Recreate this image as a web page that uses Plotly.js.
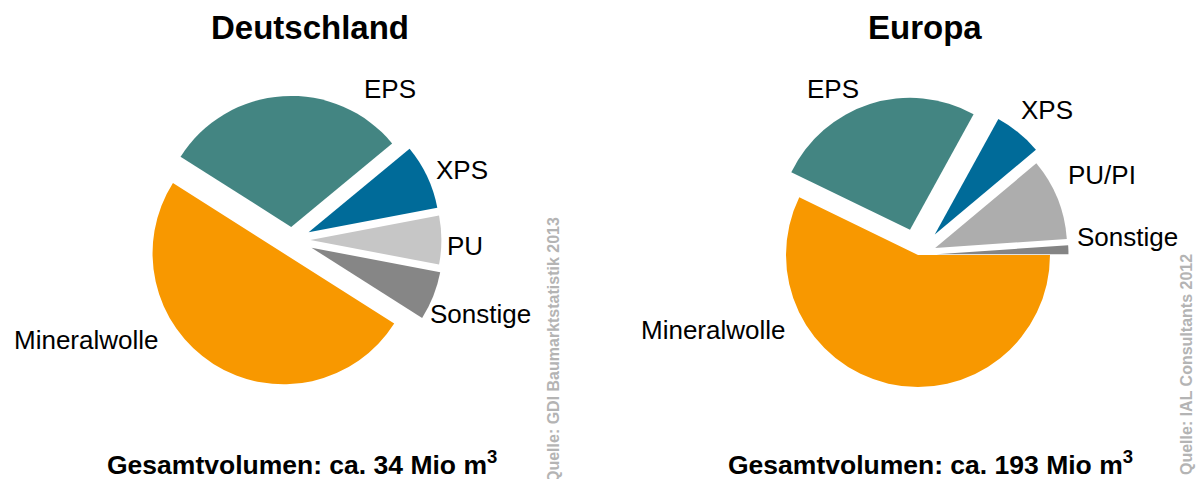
<!DOCTYPE html>
<html>
<head>
<meta charset="utf-8">
<script src="https://cdn.plot.ly/plotly-3.0.1.min.js"></script>
<style>html,body{margin:0;padding:0;background:#fff;}#chart{width:1199px;height:479px;}</style>
</head>
<body>
<div id="chart"></div>
<script>
// Data
var deCategories = ["Mineralwolle", "EPS", "XPS", "PU", "Sonstige"];
var deValues = [50, 30, 8, 6, 6];
var euCategories = ["Mineralwolle", "EPS", "XPS", "PU/PI", "Sonstige"];
var euValues = [57.2, 25.8, 5.9, 10.0, 1.1];
var deTitle = "Deutschland";
var euTitle = "Europa";
var deTotal = "Gesamtvolumen: ca. 34 Mio m<sup>3</sup>";
var euTotal = "Gesamtvolumen: ca. 193 Mio m<sup>3</sup>";
var deSource = "Quelle: GDI Baumarktstatistik 2013";
var euSource = "Quelle: IAL Consultants 2012";

// Styles
var W = 1199, H = 479;
var deColors = ["#F89800", "#438582", "#006B99", "#C6C6C6", "#868686"];
var euColors = ["#F89800", "#438582", "#006B99", "#ADADAD", "#848484"];
var dePull = [0.12, 0.10, 0.14, 0.14, 0.16];
var euPull = [0, 0.20, 0.20, 0.14, 0.14];

// label positions in pixels
var deLabelPx = [[86, 340], [390, 89], [462, 170], [465, 246], [480, 314]];
var euLabelPx = [[713, 330], [833, 89], [1047, 110], [1102, 175], [1127, 237]];

function px(x) { return x / W; }
function py(y) { return 1 - y / H; }

var traces = [
  {
    type: "pie", labels: deCategories, values: deValues, sort: false,
    direction: "clockwise", rotation: 122.4, pull: dePull,
    marker: {colors: deColors, line: {width: 0}},
    textinfo: "none", hoverinfo: "label+value", showlegend: false,
    domain: {x: [140 / W, 444 / W], y: [87 / H, 391 / H]}
  },
  {
    type: "pie", labels: euCategories, values: euValues, sort: false,
    direction: "clockwise", rotation: 90, pull: euPull,
    marker: {colors: euColors, line: {width: 0}},
    textinfo: "none", hoverinfo: "label+value", showlegend: false,
    domain: {x: [759.6 / W, 1076.4 / W], y: [65.6 / H, 382.4 / H]}
  }
];

var labelFont = {family: "Liberation Sans, Arial, sans-serif", size: 26, color: "#000"};
var ann = [];
deCategories.forEach(function (c, i) {
  ann.push({text: c, x: px(deLabelPx[i][0]), y: py(deLabelPx[i][1]), xref: "paper", yref: "paper",
    xanchor: "center", yanchor: "middle", showarrow: false, font: labelFont});
});
euCategories.forEach(function (c, i) {
  ann.push({text: c, x: px(euLabelPx[i][0]), y: py(euLabelPx[i][1]), xref: "paper", yref: "paper",
    xanchor: "center", yanchor: "middle", showarrow: false, font: labelFont});
});
var titleFont = {family: "Liberation Sans, Arial, sans-serif", size: 33, color: "#000"};
ann.push({text: "<b>" + deTitle + "</b>", x: px(310), y: py(28), xref: "paper", yref: "paper",
  xanchor: "center", yanchor: "middle", showarrow: false, font: titleFont});
ann.push({text: "<b>" + euTitle + "</b>", x: px(925), y: py(28), xref: "paper", yref: "paper",
  xanchor: "center", yanchor: "middle", showarrow: false, font: titleFont});
var totFont = {family: "Liberation Sans, Arial, sans-serif", size: 26.5, color: "#000"};
ann.push({text: "<b>" + deTotal + "</b>", x: px(302), y: py(463), xref: "paper", yref: "paper",
  xanchor: "center", yanchor: "middle", showarrow: false, font: totFont});
ann.push({text: "<b>" + euTotal + "</b>", x: px(930), y: py(463), xref: "paper", yref: "paper",
  xanchor: "center", yanchor: "middle", showarrow: false, font: totFont});
var srcFont = {family: "Liberation Sans, Arial, sans-serif", size: 16, color: "#B4B4B4"};
ann.push({text: "<b>" + deSource + "</b>", x: px(553), y: py(350), xref: "paper", yref: "paper",
  xanchor: "center", yanchor: "middle", showarrow: false, textangle: -90, font: srcFont});
ann.push({text: "<b>" + euSource + "</b>", x: px(1186), y: py(365), xref: "paper", yref: "paper",
  xanchor: "center", yanchor: "middle", showarrow: false, textangle: -90, font: srcFont});

var layout = {
  width: W, height: H,
  margin: {l: 0, r: 0, t: 0, b: 0},
  paper_bgcolor: "#fff", plot_bgcolor: "#fff",
  showlegend: false,
  annotations: ann
};
Plotly.newPlot("chart", traces, layout, {displayModeBar: false, staticPlot: true});
</script>
</body>
</html>
